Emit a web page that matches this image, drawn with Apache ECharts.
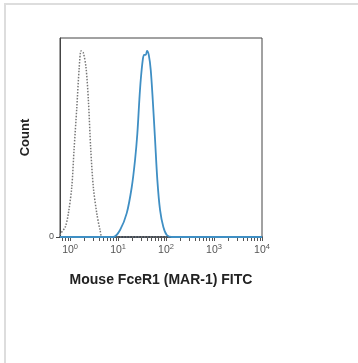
<!DOCTYPE html>
<html>
<head>
<meta charset="utf-8">
<script src="https://cdn.jsdelivr.net/npm/echarts@6/dist/echarts.min.js"></script>
<style>
  html, body { margin: 0; padding: 0; background: #fff; }
  #frame { position: absolute; left: 4px; top: 3px; width: 354px; height: 360px;
           border-top: 2px solid #dddddd; border-left: 2px solid #dddddd; box-sizing: border-box; }
  #chart { position: absolute; left: 0; top: 0; width: 358px; height: 363px; }
</style>
</head>
<body>
<div id="frame"></div>
<div id="chart"></div>
<script>
// x values are log10 of FITC intensity, y is count (% of max)
var decades = [0, 1, 2, 3, 4]

// isotype control (grey dotted)
var isoX = [-0.21, -0.19, -0.10, -0.035, 0.035, 0.083, 0.14, 0.19, 0.23, 0.277, 0.333, 0.381, 0.431, 0.485, 0.556, 0.625, 0.681, 4]
var isoY = [1, 2, 5, 12, 25, 44, 65, 85, 93.5, 92.5, 85, 69, 44, 25, 12, 3.5, 0, 0]

// MAR-1 FITC stained (blue)
var stainX = [-0.21, 0.902, 1.042, 1.181, 1.285, 1.354, 1.402, 1.444, 1.473, 1.515, 1.542, 1.577, 1.604, 1.64, 1.681, 1.723, 1.771, 1.819, 1.875, 1.944, 2.015, 2.119, 4]
var stainY = [0, 0, 3.5, 12, 25, 38.7, 52, 69, 79, 89, 91.5, 91.5, 93.5, 91.5, 84, 69, 49, 28.6, 13.6, 5, 1, 0, 0]

// minor log ticks
var minorTicks = []
for (var d = -1; d < 4; d++) {
  for (var k = 2; k <= 9; k++) {
    var v = d + Math.log10(k)
    if (v > -0.21) minorTicks.push(v)
  }
}

function pairs (xs, ys) {
  return xs.map(function (x, i) { return [x, ys[i]] })
}

var chart = echarts.init(document.getElementById('chart'))
chart.setOption({
  animation: false,
  grid: {
    left: 60, top: 38, right: 96, bottom: 126,
    show: true, borderColor: '#444', borderWidth: 1, backgroundColor: 'transparent'
  },
  xAxis: {
    type: 'value',
    min: -0.21,
    max: 4,
    name: 'Mouse FceR1 (MAR-1) FITC',
    nameLocation: 'middle',
    nameGap: 36,
    nameTextStyle: { fontFamily: 'Liberation Sans', fontWeight: 'bold', fontSize: 14, color: '#222' },
    splitLine: { show: false },
    axisLine: { onZero: false, lineStyle: { color: '#1c2a3a', width: 1.5 } },
    axisTick: {
      show: true, length: 4, customValues: decades.concat(minorTicks),
      lineStyle: { color: '#555', width: 1 }
    },
    axisLabel: {
      customValues: decades,
      margin: 6,
      formatter: function (v) { return '{b|10}{s|' + v + '}' },
      rich: {
        b: { fontFamily: 'Liberation Sans', fontSize: 10.5, color: '#555' },
        s: { fontFamily: 'Liberation Sans', fontSize: 7.5, color: '#555', padding: [0, 0, 7, 0] }
      }
    }
  },
  yAxis: {
    type: 'value',
    min: 0,
    max: 100,
    name: 'Count',
    nameLocation: 'middle',
    nameGap: 28,
    nameTextStyle: { fontFamily: 'Liberation Sans', fontWeight: 'bold', fontSize: 13, color: '#222' },
    splitLine: { show: false },
    axisLine: { show: true, onZero: false, lineStyle: { color: '#444', width: 1 } },
    axisTick: { show: true, length: 4, customValues: [0], lineStyle: { color: '#444' } },
    axisLabel: {
      customValues: [0], margin: 6,
      fontFamily: 'Liberation Sans', fontSize: 9, color: '#555'
    }
  },
  series: [
    {
      name: 'Isotype',
      type: 'line',
      data: pairs(isoX, isoY),
      smooth: 0.3,
      symbol: 'none',
      lineStyle: { color: '#777', width: 1.5, type: 'dotted' },
      z: 2
    },
    {
      name: 'MAR-1 FITC',
      type: 'line',
      data: pairs(stainX, stainY),
      smooth: 0.3,
      symbol: 'none',
      lineStyle: { color: '#3f8fc4', width: 1.8 },
      z: 3
    }
  ]
})
</script>
</body>
</html>
